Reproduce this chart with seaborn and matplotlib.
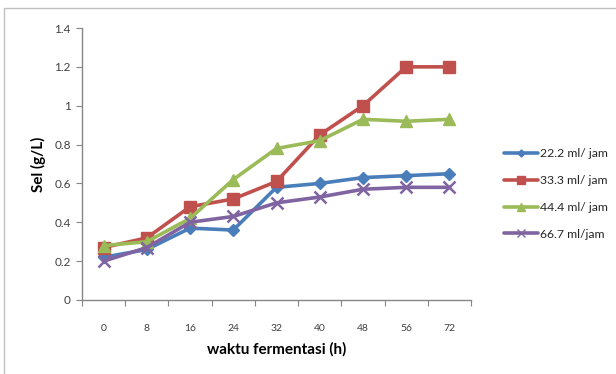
import matplotlib
matplotlib.use('Agg')
import matplotlib.pyplot as plt
import seaborn as sns
import pandas as pd
from matplotlib.lines import Line2D

# data
hours = ['0', '8', '16', '24', '32', '40', '48', '56', '72']
series_names = ['22.2 ml/ jam', '33.3 ml/ jam', '44.4 ml/ jam', '66.7 ml/jam']
flow_222 = [0.22, 0.26, 0.37, 0.36, 0.58, 0.60, 0.63, 0.64, 0.65]
flow_333 = [0.27, 0.32, 0.48, 0.52, 0.61, 0.85, 1.00, 1.20, 1.20]
flow_444 = [0.28, 0.30, 0.42, 0.62, 0.78, 0.82, 0.93, 0.92, 0.93]
flow_667 = [0.20, 0.27, 0.40, 0.43, 0.50, 0.53, 0.57, 0.58, 0.58]

colors = ['#4A7EBB', '#C0504D', '#9BBB59', '#8064A2']
markers = ['D', 's', '^', 'x']
msizes = [6, 9, 9, 9]

rows = []
for name, vals in zip(series_names, [flow_222, flow_333, flow_444, flow_667]):
    for i, (h, v) in enumerate(zip(hours, vals)):
        rows.append({'pos': i, 'hour': h, 'Sel': v, 'series': name})
df = pd.DataFrame(rows)

sns.set_style('white')
plt.rcParams['font.family'] = ['Lato', 'DejaVu Sans']

fig = plt.figure(figsize=(6.16, 3.74), dpi=100)
ax = fig.add_axes([82 / 616, 1 - 300 / 374, (471 - 82) / 616, (300 - 28) / 374])

for name, col, mk, ms in zip(series_names, colors, markers, msizes):
    sub = df[df['series'] == name]
    sns.lineplot(data=sub, x='pos', y='Sel', ax=ax, color=col, marker=mk,
                 markersize=ms, markeredgecolor=col, markeredgewidth=1.8 if mk == 'x' else 1,
                 linewidth=2.6, label=name, sort=False)

ax.set_xlim(-0.5, len(hours) - 0.5)
ax.set_ylim(0, 1.4)
ax.set_yticks([0, 0.2, 0.4, 0.6, 0.8, 1.0, 1.2, 1.4])
ax.set_yticklabels(['0', '0.2', '0.4', '0.6', '0.8', '1', '1.2', '1.4'])
ax.set_xticks([i - 0.5 for i in range(len(hours) + 1)])
ax.set_xticklabels([])
ax.set_xticks(range(len(hours)), minor=True)
ax.set_xticklabels(hours, minor=True)
ax.tick_params(axis='x', which='minor', length=0, pad=17, labelsize=7.5, labelcolor='#404040')
ax.tick_params(axis='x', which='major', length=4, direction='out', color='#868686', bottom=True)
ax.tick_params(axis='y', length=4, direction='out', color='#868686', left=True,
               labelsize=8.5, labelcolor='#404040', pad=4)

for s in ['top', 'right']:
    ax.spines[s].set_visible(False)
for s in ['left', 'bottom']:
    ax.spines[s].set_color('#868686')
    ax.spines[s].set_linewidth(1)

ax.set_xlabel('waktu fermentasi (h)', fontsize=11, fontweight='bold', color='#000000', labelpad=7)
ax.set_ylabel('Sel (g/L)', fontsize=11, fontweight='bold', color='#000000', labelpad=6)

handles = [Line2D([], [], color=c, marker=m, markersize=ms * 0.6, linewidth=2.6,
                  markeredgecolor=c) for c, m, ms in zip(colors, markers, msizes)]
ax.legend(handles, series_names, loc='center left', bbox_to_anchor=(1.056, 0.39),
          frameon=False, fontsize=8.8, handlelength=2.8, handletextpad=0.2,
          labelspacing=1.3, labelcolor='#262626')

# chart area border (left and top edges visible)
fig.add_artist(Line2D([4 / 616, 4 / 616], [0, 1 - 8 / 374], transform=fig.transFigure,
                      color='#BFBFBF', linewidth=1))
fig.add_artist(Line2D([4 / 616, 1], [1 - 8 / 374, 1 - 8 / 374], transform=fig.transFigure,
                      color='#BFBFBF', linewidth=1))

fig.savefig('out.png', dpi=100)
